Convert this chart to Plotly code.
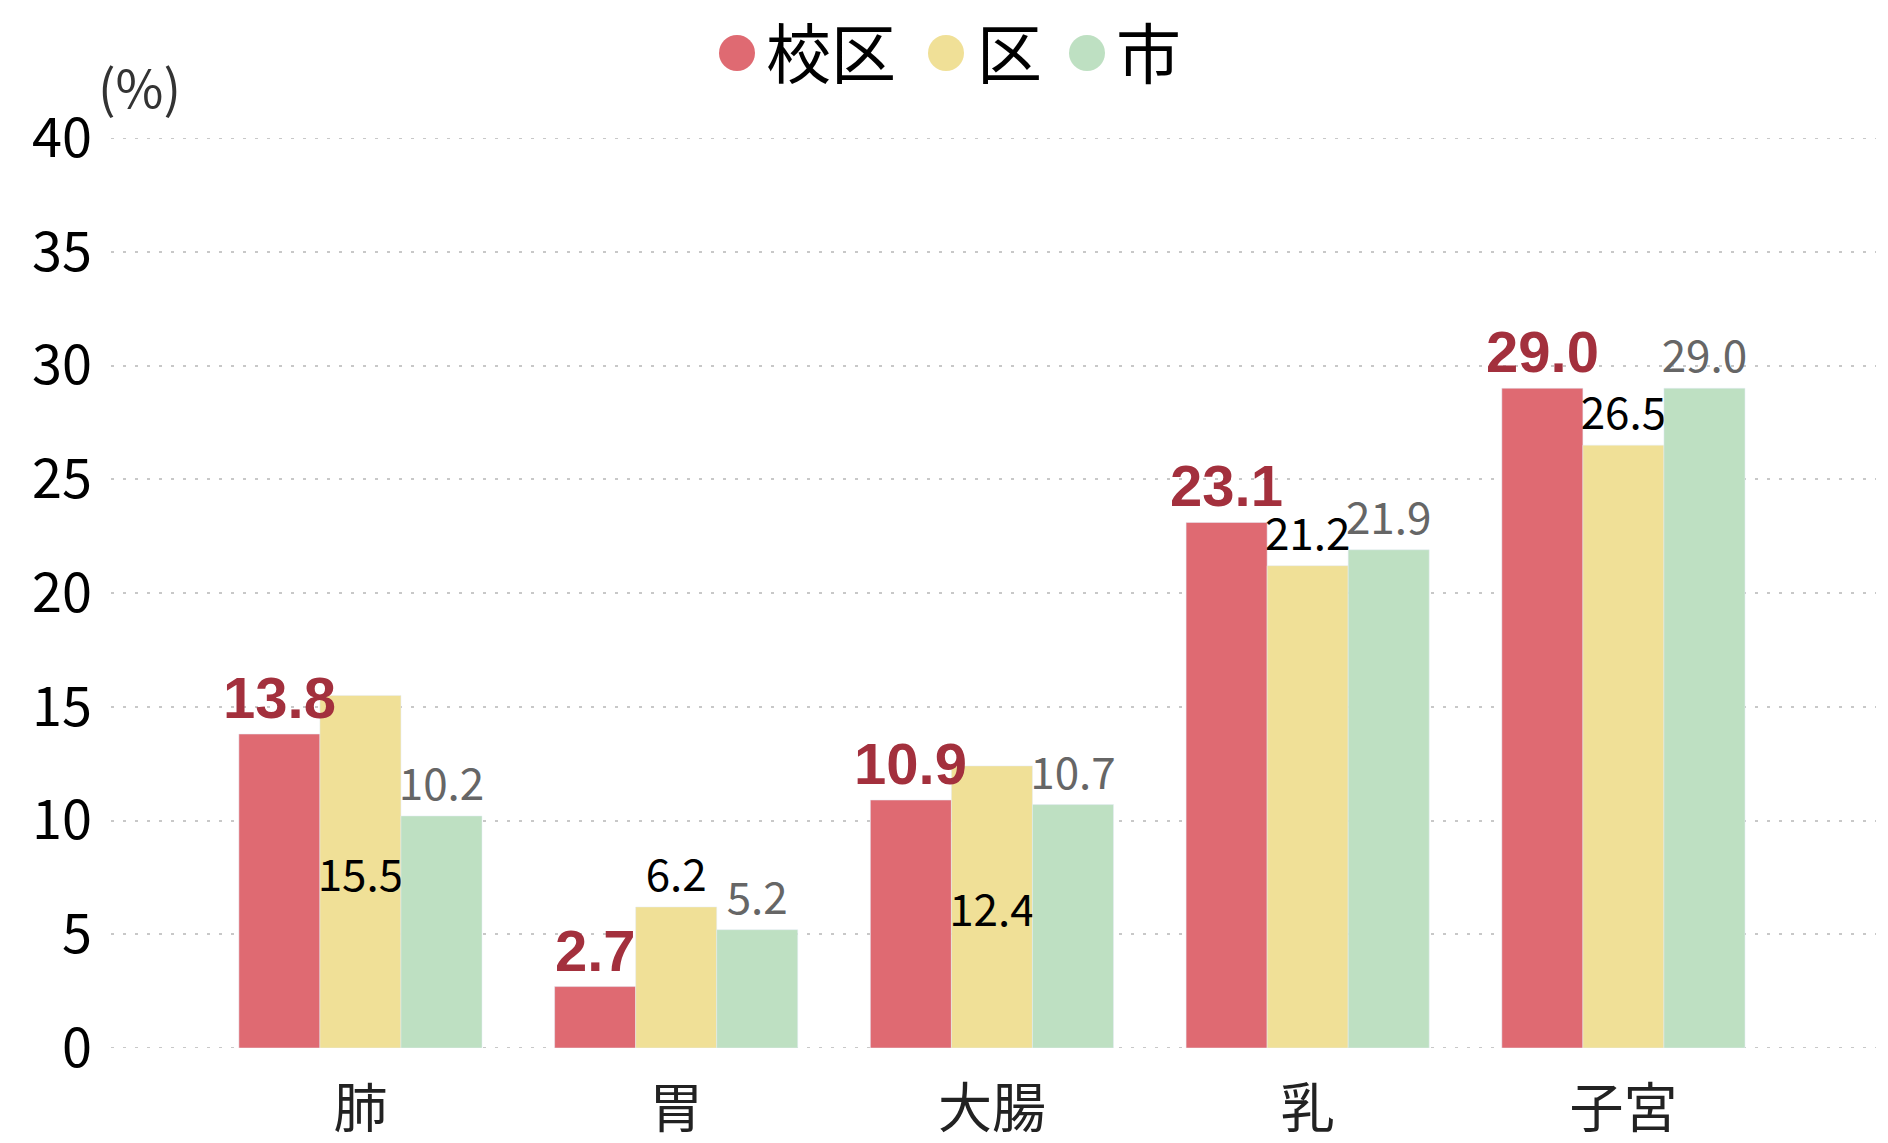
import plotly.graph_objects as go

categories = ["肺", "胃", "大腸", "乳", "子宮"]
series_names = ["校区", "区", "市"]
school = [13.8, 2.7, 10.9, 23.1, 29.0]
ward = [15.5, 6.2, 12.4, 21.2, 26.5]
city = [10.2, 5.2, 10.7, 21.9, 29.0]
y_ticks = [0, 5, 10, 15, 20, 25, 30, 35, 40]

colors = ["#DF6A72", "#F0E097", "#BEE0C2"]
JP = "Noto Sans CJK JP"
BARGAP = 0.23
GRID = dict(color="#C8C8C8", width=2, dash="3px,9px")

W, H = 1888, 1143
# plot area in pixels
PX0, PX1, PY0, PY1 = 111, 1876, 138, 1048


def px(sx):
    return (sx - PX0) / (PX1 - PX0)


def py(sy):
    return (PY1 - sy) / (PY1 - PY0)


fig = go.Figure()
fig.add_trace(go.Bar(
    x=categories, y=school, name=series_names[0], marker_color=colors[0],
    showlegend=False))
fig.add_trace(go.Bar(
    x=categories, y=ward, name=series_names[1], marker_color=colors[1],
    text=[f"{v:.1f}" for v in ward],
    textposition=["inside", "outside", "inside", "outside", "outside"],
    insidetextanchor="middle", textangle=0,
    textfont=dict(family=JP, size=44, color="#000000"),
    cliponaxis=False, constraintext="none", showlegend=False))
fig.add_trace(go.Bar(
    x=categories, y=city, name=series_names[2], marker_color=colors[2],
    text=[f"{v:.1f}" for v in city], textposition="outside", textangle=0,
    textfont=dict(family=JP, size=44, color="#666666"),
    cliponaxis=False, constraintext="none", showlegend=False))

# school labels drawn on top of all bars
bar_w = (1 - BARGAP) / 3
for i, v in enumerate(school):
    fig.add_annotation(x=i - bar_w, y=v, xref="x", yref="y", text=f"{v:.1f}",
                       showarrow=False, xanchor="center", yanchor="bottom", yshift=2,
                       font=dict(family="Liberation Sans", size=58, color="#A3303D",
                                 weight="bold"))

# gridlines at the range ends (plotly omits those at the edges)
for yv in (y_ticks[0], y_ticks[-1]):
    fig.add_shape(type="line", xref="paper", yref="y", x0=0, x1=1, y0=yv, y1=yv,
                  line=GRID, layer="below")

# manual legend (circle symbols)
legend_circle_x = [737, 946, 1087]
legend_text_x = [764, 975, 1114]
leg_circle_y = 53
leg_text_y = 50
R = 18
for i, name in enumerate(series_names):
    cx = legend_circle_x[i]
    fig.add_shape(type="circle", xref="paper", yref="paper",
                  x0=px(cx - R), x1=px(cx + R),
                  y0=py(leg_circle_y + R), y1=py(leg_circle_y - R),
                  fillcolor=colors[i], line_width=0)
    fig.add_annotation(text=name, xref="paper", yref="paper",
                       x=px(legend_text_x[i]), y=py(leg_text_y), xanchor="left", yanchor="middle",
                       showarrow=False, font=dict(family=JP, size=65, color="#000000"))

fig.add_annotation(text="(%)", xref="paper", yref="paper", x=px(139), y=py(86),
                   xanchor="center", yanchor="middle", showarrow=False,
                   font=dict(family=JP, size=52, color="#333333"))

fig.update_layout(
    width=W, height=H,
    margin=dict(l=PX0, r=W - PX1, t=PY0, b=H - PY1, autoexpand=False),
    plot_bgcolor="white", paper_bgcolor="white",
    barmode="group", bargap=BARGAP, bargroupgap=0,
    showlegend=False,
    font=dict(family=JP, color="#000000"),
)
fig.update_xaxes(range=[-0.79, 4.80], showgrid=False, showline=False, zeroline=False,
                 automargin=False,
                 ticks="", tickfont=dict(family=JP, size=54, color="#222222"),
                 ticklabelstandoff=25)
fig.update_yaxes(range=[y_ticks[0], y_ticks[-1]], tickvals=y_ticks, showgrid=True,
                 gridcolor=GRID["color"], gridwidth=GRID["width"], griddash=GRID["dash"],
                 zeroline=False, showline=False, automargin=False,
                 ticks="", tickfont=dict(family=JP, size=54, color="#000000"),
                 ticklabelstandoff=18)

fig.write_html("out.html", config={"displayModeBar": False},
               post_script="document.body.style.margin='0';document.body.style.overflow='hidden';")
